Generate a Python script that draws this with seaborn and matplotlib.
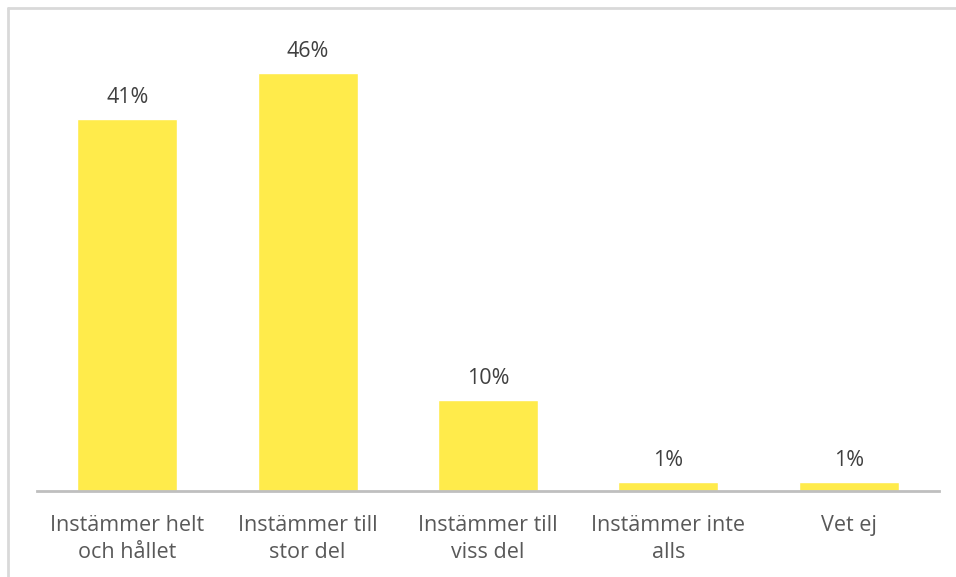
import matplotlib
matplotlib.use("Agg")
import matplotlib.pyplot as plt
import seaborn as sns
import pandas as pd
from matplotlib.lines import Line2D

categories = ["Instämmer helt\noch hållet", "Instämmer till\nstor del", "Instämmer till\nviss del",
              "Instämmer inte\nalls", "Vet ej"]
values = [41, 46, 10, 1, 1]
labels = ["41%", "46%", "10%", "1%", "1%"]

sns.set_theme(style="white")
plt.rcParams['font.family'] = ['Open Sans', 'DejaVu Sans']

W, H = 956, 577
fig = plt.figure(figsize=(W / 100, H / 100), dpi=100)
ax = fig.add_axes([37 / W, 1 - 491 / H, (939 - 37) / W, (491 - 37) / H])

df = pd.DataFrame({"cat": categories, "val": values})
sns.barplot(data=df, x="cat", y="val", color="#FFEB4B", saturation=1, width=0.555, ax=ax)

ax.set_xlim(-0.5, 4.5)
ax.set_ylim(0, 50)
ax.set_xlabel("")
ax.set_ylabel("")
ax.set_yticks([])
for s in ["top", "right", "left"]:
    ax.spines[s].set_visible(False)
ax.spines["bottom"].set_color("#BFBFBF")
ax.spines["bottom"].set_linewidth(2)
ax.tick_params(axis="x", length=0, pad=17, labelsize=15.5, labelcolor="#595959")
for t in ax.get_xticklabels():
    t.set_linespacing(1.38)

for i, (v, lab) in enumerate(zip(values, labels)):
    ax.annotate(lab, (i, v), xytext=(0, 8), textcoords="offset points",
                ha="center", va="bottom", fontsize=15.5, color="#404040")

# chart frame (left and top edges visible)
fig.add_artist(Line2D([7.5 / W, 7.5 / W], [0, 1 - 7.5 / H], transform=fig.transFigure, color="#D9D9D9", lw=2))
fig.add_artist(Line2D([7.5 / W, 1], [1 - 7.5 / H, 1 - 7.5 / H], transform=fig.transFigure, color="#D9D9D9", lw=2))

fig.savefig("out.png", dpi=100)
